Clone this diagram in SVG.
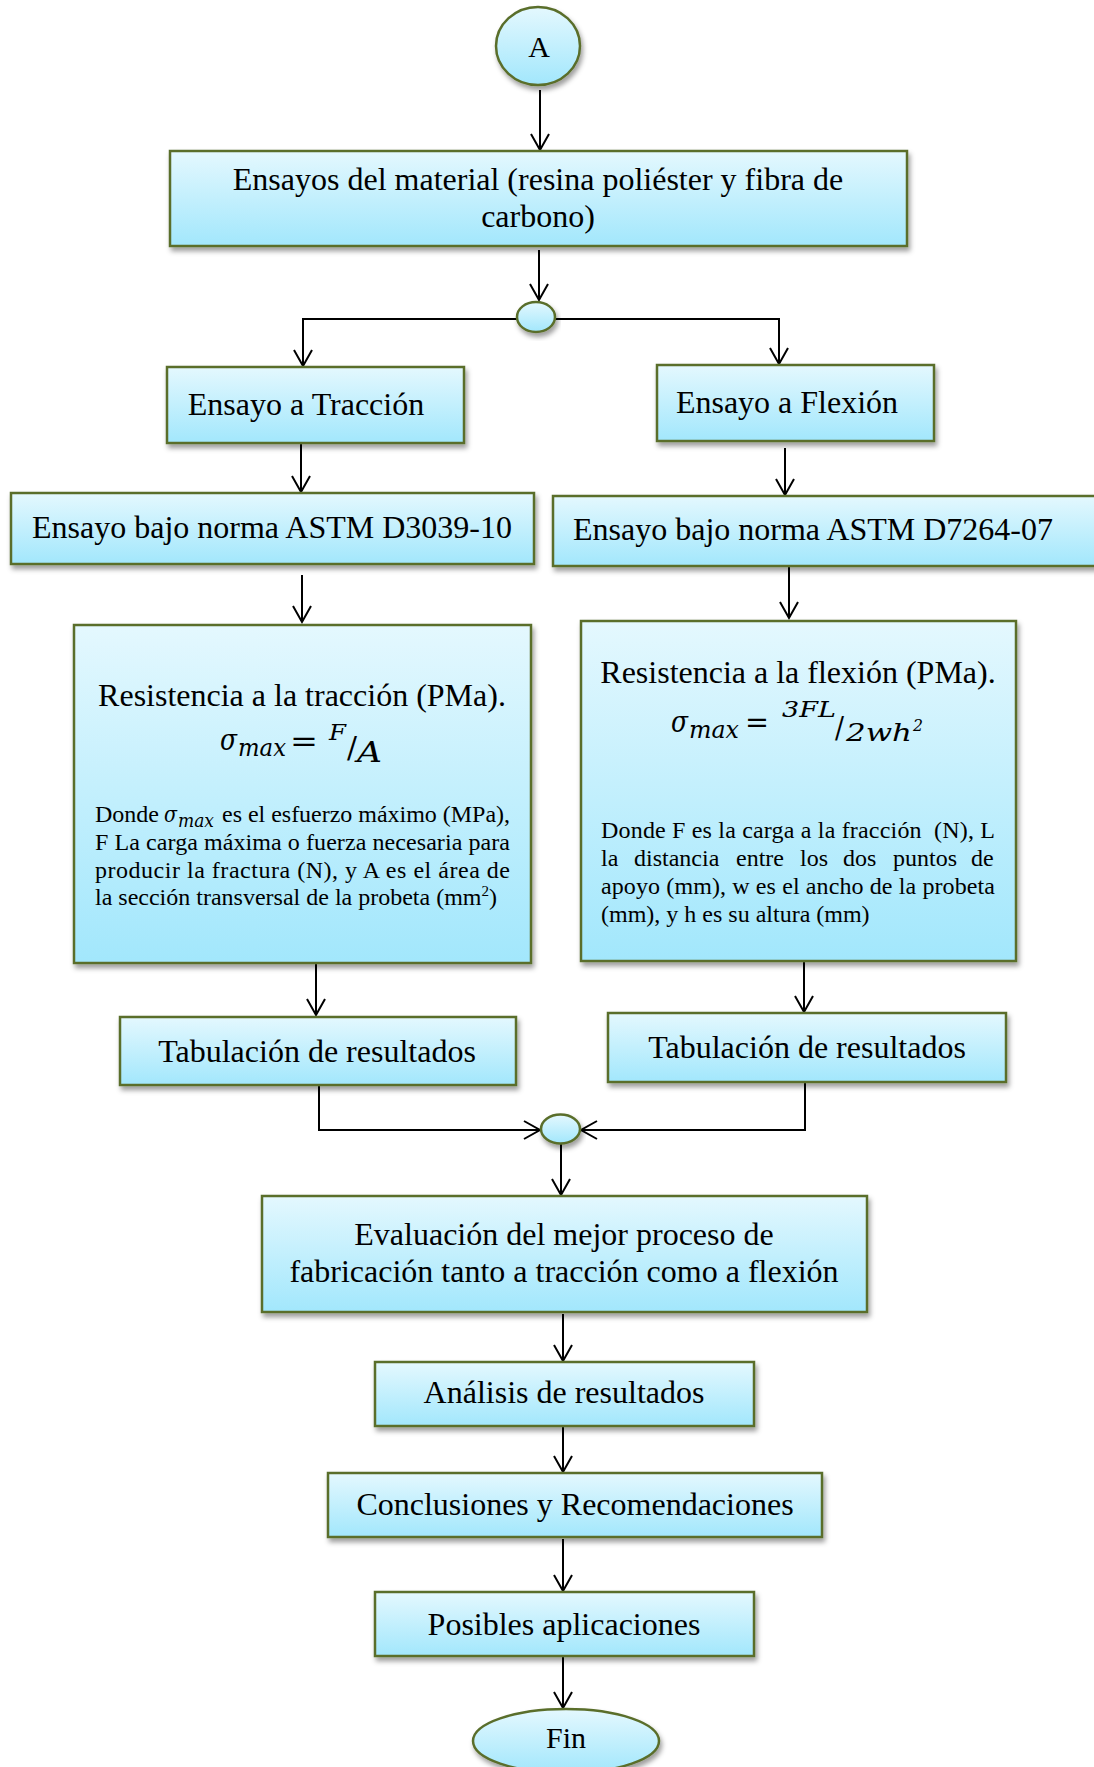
<svg xmlns="http://www.w3.org/2000/svg" width="1094" height="1767" viewBox="0 0 1094 1767">
<defs>
<linearGradient id="g" x1="0" y1="0" x2="0" y2="1">
<stop offset="0" stop-color="#E4F8FE"/>
<stop offset="1" stop-color="#A2E7FC"/>
</linearGradient>
<filter id="sh" x="-10%" y="-20%" width="125%" height="150%">
<feDropShadow dx="2" dy="4" stdDeviation="2.5" flood-color="#000" flood-opacity="0.38"/>
</filter>
<marker id="ah" markerUnits="userSpaceOnUse" markerWidth="24" markerHeight="24" viewBox="-20 -12 24 24" refX="0" refY="0" orient="auto">
<path d="M-16,-9 L0,0 L-16,9" fill="none" stroke="#000" stroke-width="2"/>
</marker>
<style>
.n{fill:url(#g);stroke:#5A6E2C;stroke-width:2.5;filter:url(#sh)}
.t{font-family:"Liberation Serif","Times New Roman",serif;font-size:32px;fill:#000;text-anchor:middle}
.s{font-family:"Liberation Serif","Times New Roman",serif;font-size:24px;fill:#000}
.m{font-family:"DejaVu Serif","Liberation Serif",serif;font-style:italic;fill:#000}
.e{font-family:"DejaVu Serif","Liberation Serif",serif;fill:#000}
.c{fill:none;stroke:#000;stroke-width:2;marker-end:url(#ah)}
</style>
</defs>
<rect width="1094" height="1767" fill="#fff"/>

<g id="connectors">
<path class="c" d="M540,90 V150"/>
<path class="c" d="M539,250 V300"/>
<path class="c" d="M517,319 H303 V366"/>
<path class="c" d="M555,319 H779 V364"/>
<path class="c" d="M301,444 V492"/>
<path class="c" d="M785,448 V495"/>
<path class="c" d="M302,575 V622"/>
<path class="c" d="M789,567 V618"/>
<path class="c" d="M316,964 V1015"/>
<path class="c" d="M804,962 V1012"/>
<path class="c" d="M319,1086 V1130 H540"/>
<path class="c" d="M805,1083 V1130 H581"/>
<path class="c" d="M561,1144 V1195"/>
<path class="c" d="M563,1314 V1361"/>
<path class="c" d="M563,1427 V1472"/>
<path class="c" d="M563,1539 V1591"/>
<path class="c" d="M563,1657 V1708"/>
</g>

<g id="nodeA">
<ellipse class="n" cx="538" cy="46" rx="42" ry="39"/>
<text class="t" x="539" y="57" style="font-size:30px">A</text>
</g>

<g id="ensayos">
<rect class="n" x="170" y="151" width="737" height="95"/>
<text class="t" x="538" y="190">Ensayos del material (resina poliéster y fibra de</text>
<text class="t" x="538" y="227">carbono)</text>
</g>

<g id="junction1">
<ellipse class="n" cx="536" cy="317" rx="19" ry="15"/>
</g>

<g id="traccion">
<rect class="n" x="167" y="367" width="297" height="76"/>
<text class="t" x="306" y="415">Ensayo a Tracción</text>
</g>

<g id="flexion">
<rect class="n" x="657" y="365" width="277" height="76"/>
<text class="t" x="787" y="413">Ensayo a Flexión</text>
</g>

<g id="astm1">
<rect class="n" x="11" y="493" width="523" height="71"/>
<text class="t" x="272" y="538">Ensayo bajo norma ASTM D3039-10</text>
</g>

<g id="astm2">
<rect class="n" x="553" y="496" width="560" height="70"/>
<text class="t" x="813" y="540">Ensayo bajo norma ASTM D7264-07</text>
</g>

<g id="resTraccion">
<rect class="n" x="74" y="625" width="457" height="338"/>
<text class="t" x="302" y="706">Resistencia a la tracción (PMa).</text>
<text class="m" x="220" y="750" style="font-size:29px" textLength="17" lengthAdjust="spacingAndGlyphs">σ</text>
<text class="m" x="238" y="756" style="font-size:24px" textLength="48" lengthAdjust="spacingAndGlyphs">max</text>
<text class="e" x="290" y="751" style="font-size:30px" textLength="28" lengthAdjust="spacingAndGlyphs">=</text>
<text class="m" x="329" y="740" style="font-size:23px" textLength="17" lengthAdjust="spacingAndGlyphs">F</text>
<text class="e" x="347" y="758" style="font-size:29px" textLength="10" lengthAdjust="spacingAndGlyphs">/</text>
<text class="m" x="357" y="762" style="font-size:28px" textLength="25" lengthAdjust="spacingAndGlyphs">A</text>
<text class="s" x="95" y="822">Donde</text>
<text class="m" x="164" y="822" style="font-size:22px" textLength="13" lengthAdjust="spacingAndGlyphs">σ</text>
<text class="m" x="178" y="827" style="font-size:18px" textLength="36" lengthAdjust="spacingAndGlyphs">max</text>
<text class="s" x="222" y="822" textLength="288" lengthAdjust="spacing">es el esfuerzo máximo (MPa),</text>
<text class="s" x="95" y="850" textLength="415" lengthAdjust="spacing">F La carga máxima o fuerza necesaria para</text>
<text class="s" x="95" y="878" textLength="415" lengthAdjust="spacing">producir la fractura (N), y A es el área de</text>
<text class="s" x="95" y="905">la sección transversal de la probeta (mm<tspan dy="-9" style="font-size:15px">2</tspan><tspan dy="9">)</tspan></text>
</g>

<g id="resFlexion">
<rect class="n" x="581" y="621" width="435" height="340"/>
<text class="t" x="798" y="683">Resistencia a la flexión (PMa).</text>
<text class="m" x="671" y="732" style="font-size:29px" textLength="17" lengthAdjust="spacingAndGlyphs">σ</text>
<text class="m" x="689" y="738" style="font-size:24px" textLength="50" lengthAdjust="spacingAndGlyphs">max</text>
<text class="e" x="745" y="732" style="font-size:30px" textLength="24" lengthAdjust="spacingAndGlyphs">=</text>
<text class="m" x="782" y="717" style="font-size:23px" textLength="54" lengthAdjust="spacingAndGlyphs">3FL</text>
<text class="e" x="835" y="738" style="font-size:29px" textLength="9" lengthAdjust="spacingAndGlyphs">/</text>
<text class="m" x="846" y="741" style="font-size:24px" textLength="66" lengthAdjust="spacingAndGlyphs">2wh</text>
<text class="m" x="913" y="731" style="font-size:16px" textLength="10" lengthAdjust="spacingAndGlyphs">2</text>
<text class="s" x="601" y="838" textLength="394" lengthAdjust="spacing" xml:space="preserve">Donde F es la carga a la fracción  (N), L</text>
<text class="s" y="866"><tspan x="601">la</tspan><tspan x="634">distancia</tspan><tspan x="736">entre</tspan><tspan x="800">los</tspan><tspan x="843">dos</tspan><tspan x="893">puntos</tspan><tspan x="971">de</tspan></text>
<text class="s" x="601" y="894" textLength="394" lengthAdjust="spacing">apoyo (mm), w es el ancho de la probeta</text>
<text class="s" x="601" y="922">(mm), y h es su altura (mm)</text>
</g>

<g id="tab1">
<rect class="n" x="120" y="1017" width="396" height="68"/>
<text class="t" x="317" y="1062">Tabulación de resultados</text>
</g>

<g id="tab2">
<rect class="n" x="608" y="1013" width="398" height="69"/>
<text class="t" x="807" y="1058">Tabulación de resultados</text>
</g>

<g id="junction2">
<ellipse class="n" cx="560.5" cy="1129" rx="19.5" ry="14.5"/>
</g>

<g id="evaluacion">
<rect class="n" x="262" y="1196" width="605" height="116"/>
<text class="t" x="564" y="1245">Evaluación del mejor proceso de</text>
<text class="t" x="564" y="1282">fabricación tanto a tracción como a flexión</text>
</g>

<g id="analisis">
<rect class="n" x="375" y="1362" width="379" height="64"/>
<text class="t" x="564" y="1403">Análisis de resultados</text>
</g>

<g id="conclusiones">
<rect class="n" x="328" y="1473" width="494" height="64"/>
<text class="t" x="575" y="1515">Conclusiones y Recomendaciones</text>
</g>

<g id="posibles">
<rect class="n" x="375" y="1592" width="379" height="64"/>
<text class="t" x="564" y="1635">Posibles aplicaciones</text>
</g>

<g id="fin">
<ellipse class="n" cx="566" cy="1741" rx="93" ry="32"/>
<text class="t" x="566" y="1748" style="font-size:30px">Fin</text>
</g>
</svg>
